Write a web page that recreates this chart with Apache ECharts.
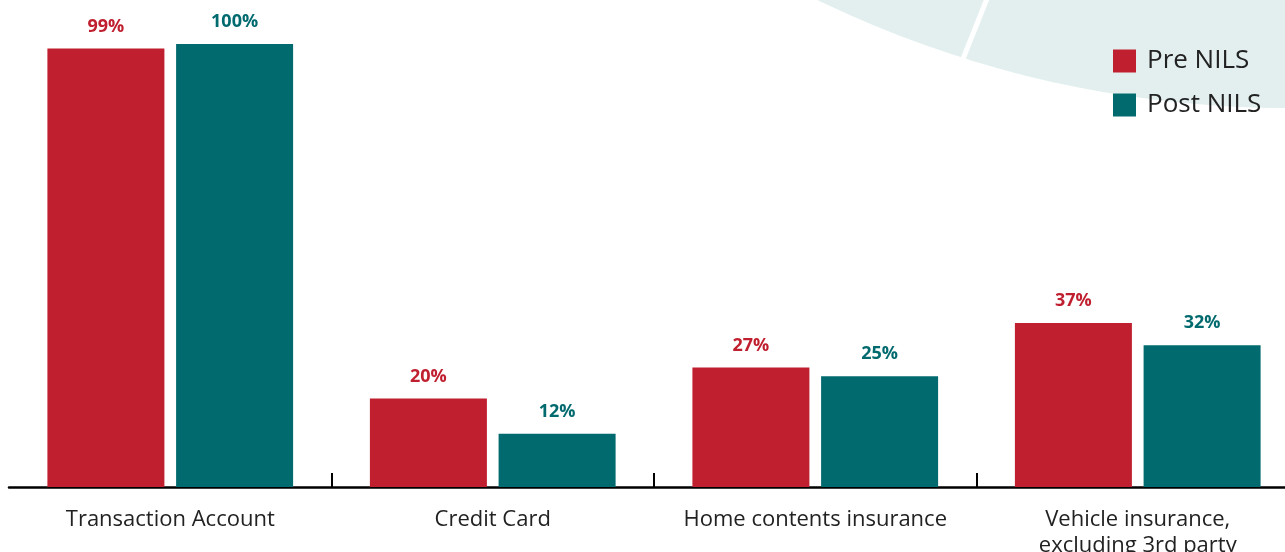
<!DOCTYPE html>
<html>
<head>
<meta charset="utf-8">
<script src="https://cdn.jsdelivr.net/npm/echarts@6/dist/echarts.min.js"></script>
<style>
  html, body { margin: 0; padding: 0; background: #fff; }
  #chart { width: 1285px; height: 552px; }
</style>
</head>
<body>
<div id="chart"></div>
<script>
  // categories + values
  var categories = ['Transaction Account', 'Credit Card', 'Home contents insurance', 'Vehicle insurance,\nexcluding 3rd party'];
  var preNils = [99, 20, 27, 37];
  var postNils = [100, 12, 25, 32];
  var seriesNames = ['Pre NILS', 'Post NILS'];

  var RED = '#c01f2f';
  var TEAL = '#006a6e';
  var FONT = 'Open Sans';

  var chart = echarts.init(document.getElementById('chart'));

  function labelOf(color) {
    return {
      show: true,
      position: 'top',
      distance: 13,
      color: color,
      fontFamily: FONT,
      fontWeight: 'bold',
      fontSize: 18,
      formatter: '{c}%'
    };
  }

  var options = {
    animation: false,
    // decorative circle in the top right corner
    graphic: [{
      type: 'circle',
      z: -10,
      shape: { cx: 1288, cy: -972, r: 1080 },
      style: { fill: '#e3efef' }
    }, {
      type: 'line',
      z: -9,
      shape: { x1: 988, y1: -4, x2: 961, y2: 64 },
      style: { stroke: '#fff', lineWidth: 5 }
    }],
    legend: {
      orient: 'vertical',
      left: 1113,
      top: 48,
      padding: 0,
      itemWidth: 23,
      itemHeight: 23,
      itemGap: 18,
      icon: 'rect',
      textStyle: { fontFamily: FONT, fontSize: 26, color: '#222', padding: [0, 0, 0, 6] },
      data: seriesNames
    },
    grid: {
      left: 9,
      top: 44,
      width: 1290,
      bottom: 65,
      outerBoundsMode: 'none',
      containLabel: false
    },
    xAxis: {
      type: 'category',
      data: categories,
      axisLine: { lineStyle: { color: '#000', width: 2.5 } },
      axisTick: {
        show: true,
        inside: true,
        length: 14,
        lineStyle: { color: '#000', width: 2 },
        interval: function (i) { return i > 0; }
      },
      axisLabel: {
        color: '#222',
        fontFamily: FONT,
        fontSize: 22,
        lineHeight: 26,
        margin: 20,
        interval: 0
      }
    },
    yAxis: {
      type: 'value',
      min: 0,
      max: 100,
      show: false
    },
    series: [{
      name: seriesNames[0],
      type: 'bar',
      data: preNils,
      barWidth: 117,
      barGap: '10%',
      itemStyle: { color: RED },
      label: labelOf(RED)
    }, {
      name: seriesNames[1],
      type: 'bar',
      data: postNils,
      barWidth: 117,
      barGap: '10%',
      itemStyle: { color: TEAL },
      label: labelOf(TEAL)
    }]
  };

  chart.setOption(options);
</script>
</body>
</html>
